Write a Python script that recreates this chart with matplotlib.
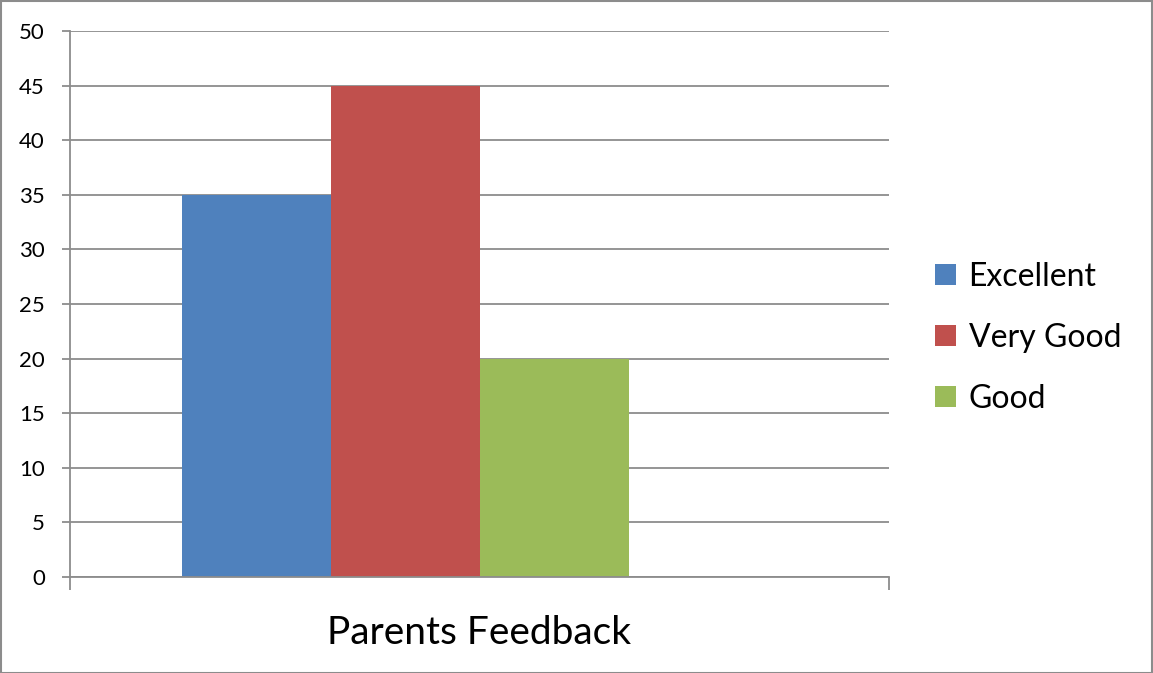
import matplotlib
matplotlib.use("Agg")
import matplotlib.pyplot as plt
from matplotlib.patches import Rectangle

# ── Data ───────────────────────────────────────────────────────────────────────
SERIES = ["Excellent", "Very Good", "Good"]
VALUES = [35, 45, 20]
COLORS = ["#4F81BD", "#C0504D", "#9BBB59"]
CATEGORY = "Parents Feedback"
Y_TICKS = list(range(0, 55, 5))

GRID = "#8C8C8C"

plt.rcParams["font.family"] = ["Lato", "DejaVu Sans"]

fig = plt.figure(figsize=(11.53, 6.73), dpi=100)
ax = fig.add_axes([70 / 1153, 1 - 577 / 673, 819 / 1153, 546 / 673])

# cluster sits left of centre, like the original sheet chart
bar_w = 149 / 819
group_left = (182 - 70) / 819 - 0.5
for i, (name, val, col) in enumerate(zip(SERIES, VALUES, COLORS)):
    ax.bar(group_left + bar_w * (i + 0.5), val, width=bar_w, color=col,
           label=name, zorder=3)

ax.set_xlim(-0.5, 0.5)
ax.set_ylim(0, 50)
ax.set_yticks(Y_TICKS)
ax.set_yticklabels([str(t) for t in Y_TICKS], fontsize=16)
ax.set_xticks([-0.5, 0.5])
ax.set_xticklabels(["", ""])
ax.tick_params(axis="y", length=6, width=1.3, color=GRID, pad=12)
ax.tick_params(axis="x", length=9, width=1.3, color=GRID)

ax.yaxis.grid(True, color=GRID, linewidth=1.3, zorder=0)
for side in ["top", "right"]:
    ax.spines[side].set_visible(False)
for side in ["left", "bottom"]:
    ax.spines[side].set_color(GRID)
    ax.spines[side].set_linewidth(1.3)
    ax.spines[side].set_zorder(4)

ax.text(0.5, -0.103, CATEGORY, transform=ax.transAxes, ha="center", va="center",
        fontsize=28)

leg = fig.legend(loc="center left", bbox_to_anchor=(935 / 1153, 1 - 338 / 673),
                 frameon=False, fontsize=23, handlelength=0.65, handleheight=0.65,
                 handletextpad=0.4, labelspacing=0.97, borderpad=0,
                 borderaxespad=0)

# outer chart border
fig.patches.append(Rectangle((0.0005, 0.0005), 0.999, 0.998, transform=fig.transFigure,
                             fill=False, edgecolor="#8C8C8C", linewidth=1.5))

fig.savefig("out.png", dpi=100)
